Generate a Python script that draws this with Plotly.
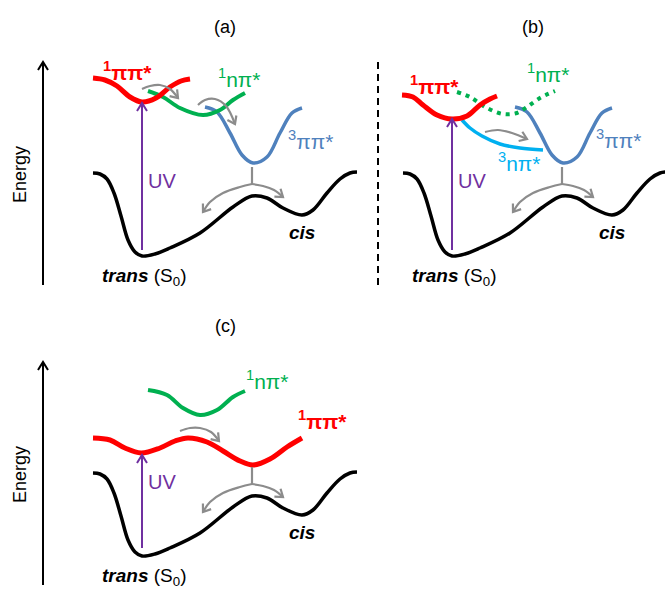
import plotly.graph_objects as go

FONT = "Arial, 'Liberation Sans', sans-serif"
RED, GREEN, BLUE, CYAN = "#FF0000", "#00B050", "#4F81BD", "#00B0F0"
PURPLE, GRAY, BLACK = "#7030A0", "#8C8C8C", "#000000"

# ---------------- data: control points (pixel units) ----------------
panel_titles = ["(a)", "(b)", "(c)"]
panel_dx = [0, 310, 0]
panel_dy = [0, 0, 300]

# ground state S0 profile (panel (a) frame; shifted for (b) and (c))
s0_x = [93, 100, 107, 114, 121, 128, 135, 142, 155, 170, 200, 233, 252, 267, 283, 302, 313, 327, 340, 350, 357]
s0_y = [173, 174, 179, 193, 216, 240, 252, 256, 254, 248, 233, 207, 196, 198, 208, 215, 210, 193, 179, 173, 172]

# 3pipi* well (panels a, b)
t3pp_x = [205, 217, 230, 242, 253, 267, 280, 292, 302]
t3pp_y = [107, 112, 133, 155, 163, 157, 133, 113, 108]

# branching gray arrow below the lowest excited-state minimum
stem_x, stem_y = [252, 252], [167, 184]
split_left_x, split_left_y = [252, 240, 223, 210, 203], [184, 187, 193, 202, 212]
split_right_x, split_right_y = [252, 263, 274, 283], [184, 186, 190, 197]

# (a)
a_s1pp_x = [93, 105, 117, 130, 142, 156, 170, 181, 190]
a_s1pp_y = [78, 80, 86, 97, 102, 98, 87, 81, 79]
a_s1np_x = [148, 163, 180, 203, 220, 233, 245]
a_s1np_y = [91, 97, 108, 115, 110, 100, 93]
a_arrow1_x, a_arrow1_y = [142, 150, 160, 170, 178], [89, 86, 85, 89, 98]
a_arrow2_x, a_arrow2_y = [198, 205, 215, 226, 235], [105, 100, 99, 106, 124]

# (b)
b_s1pp_x = [402, 413, 423, 437, 452, 467, 480, 490, 497]
b_s1pp_y = [95, 97, 105, 115, 119, 116, 105, 99, 96]
b_s1np_x = [457, 470, 487, 503, 517, 527, 540, 555]
b_s1np_y = [92, 97, 108, 114, 113, 107, 98, 91]
b_t3np_x = [462, 470, 482, 500, 520, 543]
b_t3np_y = [120, 128, 136, 144, 148, 150]
b_arrow_x, b_arrow_y = [485, 498, 512, 527], [132, 130, 133, 139]

# (c)
c_s1np_x = [148, 167, 183, 200, 217, 233, 245]
c_s1np_y = [390, 395, 408, 415, 410, 397, 391]
c_s1pp_x = [93, 110, 125, 141, 160, 175, 188, 207, 223, 240, 253, 270, 287, 302]
c_s1pp_y = [438, 440, 448, 453, 448, 441, 438, 442, 451, 461, 465, 459, 447, 438]
c_arrow_x, c_arrow_y = [180, 190, 200, 211, 219], [431, 428, 428, 432, 441]

# straight arrows
uv_x = [142, 452, 142]
uv_tail_y = [250, 250, 548]
uv_tip_y = [103, 119, 455]
energy_x = [43, 43]
energy_tail_y = [285, 585]
energy_tip_y = [62, 362]
energy_label_y = [175, 475]
divider_x, divider_y = [378, 378], [62, 287]

# text labels: (text, x, y, colour)
labels_a = [("<b><sup>1</sup>ππ*</b>", 127, 71, RED), ("<sup>1</sup>nπ*", 239, 78, GREEN),
            ("<sup>3</sup>ππ*", 310, 140, BLUE)]
labels_b = [("<b><sup>1</sup>ππ*</b>", 434, 85, RED), ("<sup>1</sup>nπ*", 548, 73, GREEN),
            ("<sup>3</sup>ππ*", 618, 139, BLUE), ("<sup>3</sup>nπ*", 519, 162, CYAN)]
labels_c = [("<sup>1</sup>nπ*", 267, 380, GREEN), ("<b><sup>1</sup>ππ*</b>", 322, 420, RED)]
title_x = [225, 533, 225]
title_y = [27, 27, 326]
uv_label_dx = 20
uv_label_y = [181, 181, 482]
cis_x = [302, 612, 302]
cis_y = [232, 232, 532]
trans_x = [144, 454, 144]
trans_y = [277, 277, 577]

# ---------------- drawing ----------------
fig = go.Figure()
ann = []


def curve(x, y, color, width, dash=None, dx=0, dy=0, spline=True):
    fig.add_trace(go.Scatter(
        x=[v + dx for v in x], y=[v + dy for v in y], mode="lines",
        line=dict(color=color, width=width, shape="spline" if spline else "linear",
                  smoothing=1.0, dash=dash),
        hoverinfo="skip", showlegend=False))


def head(x, y, color, width, dx=0, dy=0, length=7, half=5):
    # open V arrowhead at the end of a path, oriented along its last segment
    x0, y0, x1, y1 = x[-2] + dx, y[-2] + dy, x[-1] + dx, y[-1] + dy
    L = ((x1 - x0) ** 2 + (y1 - y0) ** 2) ** 0.5
    ux, uy = (x1 - x0) / L, (y1 - y0) / L
    nx, ny = -uy, ux
    hx = [x1 - length * ux + half * nx, x1, x1 - length * ux - half * nx]
    hy = [y1 - length * uy + half * ny, y1, y1 - length * uy - half * ny]
    curve(hx, hy, color, width, spline=False)


def arrow(x, y, color, width, dx=0, dy=0, spline=True, length=7, half=5):
    curve(x, y, color, width, dx=dx, dy=dy, spline=spline)
    head(x, y, color, width, dx=dx, dy=dy, length=length, half=half)


def text(t, x, y, color=BLACK, size=19, angle=0):
    ann.append(dict(x=x, y=y, xref="x", yref="y", text=t, showarrow=False,
                    xanchor="center", yanchor="middle", textangle=angle,
                    font=dict(family=FONT, size=size, color=color)))


# ground states
for dx, dy in zip(panel_dx, panel_dy):
    curve(s0_x, s0_y, BLACK, 3.5, dx=dx, dy=dy)

# (a)
curve(t3pp_x, t3pp_y, BLUE, 3.5)
curve(a_s1np_x, a_s1np_y, GREEN, 4)
curve(a_s1pp_x, a_s1pp_y, RED, 5)
arrow(a_arrow1_x, a_arrow1_y, GRAY, 2.2)
arrow(a_arrow2_x, a_arrow2_y, GRAY, 2.2)

# (b)
curve(t3pp_x, t3pp_y, BLUE, 3.5, dx=panel_dx[1])
curve(b_t3np_x, b_t3np_y, CYAN, 3.5)
curve(b_s1np_x, b_s1np_y, GREEN, 4, dash="4px,5px")
curve(b_s1pp_x, b_s1pp_y, RED, 5)
arrow(b_arrow_x, b_arrow_y, GRAY, 2.2)

# (c)
curve(c_s1np_x, c_s1np_y, GREEN, 4)
curve(c_s1pp_x, c_s1pp_y, RED, 5)
arrow(c_arrow_x, c_arrow_y, GRAY, 2.2)

# branching arrows
for dx, dy in zip(panel_dx, panel_dy):
    curve(stem_x, stem_y, GRAY, 2.2, dx=dx, dy=dy, spline=False)
    arrow(split_left_x, split_left_y, GRAY, 2.2, dx=dx, dy=dy)
    arrow(split_right_x, split_right_y, GRAY, 2.2, dx=dx, dy=dy)

# divider
curve(divider_x, divider_y, BLACK, 2, dash="7px,5px", spline=False)

# UV arrows and labels
for x, y0, y1, ly in zip(uv_x, uv_tail_y, uv_tip_y, uv_label_y):
    arrow([x, x], [y0, y1], PURPLE, 2, spline=False, length=8, half=5)
    text("UV", x + uv_label_dx, ly, PURPLE, 20)

# energy axes
for x, y0, y1, ly in zip(energy_x, energy_tail_y, energy_tip_y, energy_label_y):
    arrow([x, x], [y0, y1], BLACK, 2, spline=False, length=8, half=5)
    text("Energy", 20, ly, BLACK, 18, angle=-90)

# titles, cis / trans
for t, x, y in zip(panel_titles, title_x, title_y):
    text(t, x, y, BLACK, 18)
for x, y in zip(cis_x, cis_y):
    text("<b><i>cis</i></b>", x, y, BLACK, 19)
for x, y in zip(trans_x, trans_y):
    text("<b><i>trans</i></b> (S<sub>0</sub>)", x, y, BLACK, 19)

for t, x, y, c in labels_a + labels_b + labels_c:
    text(t, x, y, c, 21)

fig.update_layout(
    width=665, height=590, margin=dict(l=0, r=0, t=0, b=0),
    paper_bgcolor="white", plot_bgcolor="white", annotations=ann, showlegend=False,
    xaxis=dict(range=[0, 665], visible=False, fixedrange=True),
    yaxis=dict(range=[590, 0], visible=False, fixedrange=True),
)
fig.write_html("out.html", config={"displayModeBar": False},
               post_script="document.body.style.margin='0';")
